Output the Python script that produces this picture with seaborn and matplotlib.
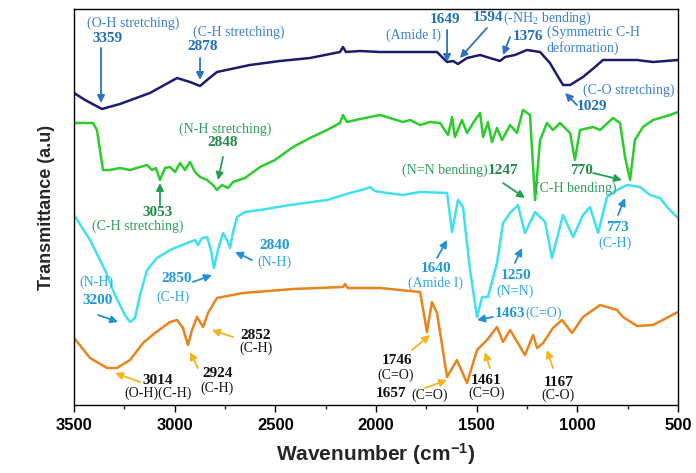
import matplotlib
matplotlib.use("Agg")
import matplotlib.pyplot as plt
import seaborn as sns
import pandas as pd

# ---- spectra (wavenumber in cm^-1, transmittance in arbitrary offset units) ----
wn_navy = [3500, 3445, 3361, 3272, 3123, 2988, 2924, 2874, 2839, 2790, 2626, 2477, 2328,
           2179, 2164, 2149, 2079, 1980, 1831, 1697, 1647, 1617, 1593, 1548, 1483, 1434,
           1384, 1359, 1310, 1250, 1185, 1136, 1101, 1071, 1036, 972, 912, 873, 704, 624, 500]
t_navy = [312, 305, 296, 301, 312, 327, 323, 319, 325, 333, 340, 344, 347,
          353, 358, 353, 354, 353, 353, 353, 343, 344, 341, 347, 350, 347,
          344, 348, 350, 355, 353, 342, 330, 320, 320, 328, 338, 345, 345, 343, 345]

wn_green = [3500, 3406, 3386, 3356, 3321, 3272, 3222, 3172, 3137, 3113, 3093, 3073, 3048,
            3023, 2998, 2973, 2949, 2924, 2899, 2874, 2839, 2810, 2790, 2765, 2735, 2710,
            2651, 2576, 2502, 2412, 2328, 2243, 2179, 2164, 2144, 2079, 1980, 1931, 1866,
            1831, 1781, 1731, 1682, 1642, 1622, 1608, 1573, 1548, 1518, 1483, 1468, 1444,
            1424, 1399, 1374, 1334, 1300, 1270, 1235, 1210, 1185, 1151, 1121, 1086, 1036,
            1012, 987, 922, 887, 823, 788, 763, 738, 714, 674, 624, 540, 500]
t_green = [282, 282, 275, 235, 235, 237, 235, 238, 240, 235, 237, 225, 237,
           238, 233, 242, 235, 243, 233, 228, 225, 220, 215, 220, 217, 223,
           227, 238, 245, 258, 267, 275, 282, 290, 283, 286, 290, 287, 283,
           285, 280, 283, 282, 270, 288, 268, 285, 272, 282, 292, 268, 283,
           263, 277, 265, 280, 272, 295, 290, 205, 265, 282, 275, 282, 272,
           245, 275, 278, 275, 287, 282, 248, 225, 265, 278, 285, 290, 293]

wn_cyan = [3500, 3420, 3346, 3296, 3247, 3222, 3197, 3172, 3137, 3088, 3023, 2949, 2899,
           2884, 2864, 2839, 2820, 2805, 2785, 2760, 2740, 2725, 2710, 2690, 2651, 2576,
           2427, 2243, 2129, 2055, 2030, 2005, 1980, 1866, 1781, 1647, 1622, 1593, 1568,
           1533, 1498, 1473, 1444, 1399, 1369, 1334, 1295, 1260, 1210, 1160, 1126, 1071,
           1021, 972, 937, 897, 853, 803, 753, 689, 639, 589, 550, 500]
t_cyan = [190, 165, 135, 110, 90, 83, 87, 110, 135, 147, 155, 161, 165,
          160, 167, 168, 155, 137, 155, 172, 165, 157, 173, 188, 193, 195,
          200, 205, 212, 216, 218, 214, 213, 210, 213, 212, 173, 205, 198,
          135, 88, 108, 108, 142, 182, 192, 200, 172, 193, 183, 147, 190,
          168, 190, 198, 172, 208, 215, 220, 218, 210, 207, 197, 187]

wn_orange = [3500, 3420, 3336, 3286, 3222, 3157, 3098, 3023, 2988, 2959, 2934, 2914, 2889,
             2859, 2834, 2790, 2661, 2412, 2164, 2154, 2140, 1980, 1781, 1757, 1747, 1737,
             1722, 1697, 1647, 1598, 1548, 1498, 1449, 1399, 1369, 1334, 1260, 1220, 1200,
             1170, 1121, 1076, 1026, 972, 887, 803, 773, 704, 624, 500]
t_orange = [67, 47, 37, 37, 45, 62, 72, 83, 85, 77, 60, 75, 88,
            78, 92, 107, 112, 116, 118, 121, 117, 117, 113, 85, 73, 85,
            103, 92, 28, 45, 22, 55, 65, 78, 63, 75, 50, 70, 57,
            62, 77, 85, 72, 88, 100, 95, 88, 79, 80, 93]

NAVY, GREEN, CYAN, ORANGE = "#1c1c6e", "#2ccc2c", "#40e0f0", "#e8841e"

sns.set_style("white")
plt.rcParams["font.family"] = ["Liberation Serif", "DejaVu Serif"]
plt.rcParams["mathtext.fontset"] = "custom"
plt.rcParams["mathtext.rm"] = "Liberation Serif"
plt.rcParams["mathtext.bf"] = "Liberation Sans:bold"

fig = plt.figure(figsize=(6.96, 4.73), dpi=100)
ax = fig.add_axes([74 / 696, 1 - 405 / 473, 604 / 696, 396 / 473])

for wn, t, c in [(wn_navy, t_navy, NAVY), (wn_green, t_green, GREEN),
                 (wn_cyan, t_cyan, CYAN), (wn_orange, t_orange, ORANGE)]:
    df = pd.DataFrame({"wavenumber": wn, "transmittance": t})
    sns.lineplot(data=df, x="wavenumber", y="transmittance", ax=ax, color=c,
                 lw=1.8, estimator=None, sort=False)

ax.set_xlim(3500, 500)
ax.set_ylim(0, 396)
ax.set_xticks([3500, 3000, 2500, 2000, 1500, 1000, 500])
ax.set_xticks([3250, 2750, 2250, 1750, 1250, 750], minor=True)
ax.set_yticks([])
ax.tick_params(axis="x", which="major", direction="out", length=5, width=1, bottom=True,
               labelsize=12, pad=4, colors="black")
ax.tick_params(axis="x", which="minor", direction="out", length=3, width=1, bottom=True)
for lab in ax.get_xticklabels():
    lab.set_fontfamily("Liberation Sans")
    lab.set_fontweight("bold")
for s in ax.spines.values():
    s.set_color("black")
    s.set_linewidth(1.0)

ax.set_xlabel("Wavenumber (cm$\\mathbf{^{-1}}$)", fontfamily="Liberation Sans",
              fontweight="bold", fontsize=15, labelpad=6)
ax.set_ylabel("Transmittance (a.u)", fontfamily="Liberation Sans",
              fontweight="bold", fontsize=13, labelpad=14)


def num(x, y, s, c, ha="center"):
    ax.text(x, y, s, color=c, fontsize=11, fontweight="bold", ha=ha, va="center")


def lab(x, y, s, c, ha="center"):
    ax.text(x, y, s, color=c, fontsize=10, ha=ha, va="center")


def arrow(tail, tip, c):
    ax.annotate("", xy=tip, xytext=tail,
                arrowprops=dict(arrowstyle="-|>", color=c, lw=1.3, mutation_scale=11,
                                shrinkA=0, shrinkB=0))


# navy spectrum annotations
NT, NN, NA = "#3a80cc", "#1f6fba", "#2b74bf"
lab(3204, 382, "(O-H stretching)", NT)
num(3336, 366, "3359", NN)
arrow((3366, 357), (3366, 302), NA)
lab(2683, 373, "(C-H stretching)", NT)
num(2862, 358, "2878", NN)
arrow((2874, 347), (2874, 325), NA)
num(1657, 385, "1649", NN)
lab(1816, 370, "(Amide I)", NT)
arrow((1647, 375), (1647, 343), NA)
num(1369, 387, "1594", NN, ha="right")
lab(1369, 387, "(-NH$_2$ bending)", NT, ha="left")
arrow((1449, 377), (1583, 347), NA)
num(1247, 369, "1376", NN)
lab(1151, 373, "(Symmetric C-H", NT, ha="left")
lab(1151, 357, "deformation)", NT, ha="left")
arrow((1334, 368), (1369, 350), NA)
lab(746, 315, "(C-O stretching)", NT)
num(925, 298, "1029", NN)
arrow((1002, 300), (1061, 312), NA)

# green spectrum annotations
GT, GN, GA = "#2e9e5e", "#1f8a4c", "#22a050"
lab(2750, 276, "(N-H stretching)", GT)
num(2762, 262, "2848", GN)
arrow((2760, 248), (2785, 225), GA)
num(3083, 192, "3053", GN)
lab(3182, 179, "(C-H stretching)", GT)
arrow((3073, 200), (3073, 222), GA)
lab(1444, 235, "(N=N bending)", GT, ha="right")
num(1444, 235, "1247", GN, ha="left")
arrow((1369, 222), (1260, 207), GA)
num(977, 235, "770", GN)
lab(1007, 217, "(C-H bending)", GT)
arrow((922, 232), (778, 225), GA)

# cyan spectrum annotations
CT, CN, CA = "#2ca8e2", "#1d9ad8", "#2090d8"
lab(3388, 123, "(N-H)", CT)
num(3381, 105, "3200", CN)
arrow((3381, 90), (3281, 83), CA)
num(2988, 127, "2850", CN)
lab(3006, 108, "(C-H)", CT)
arrow((2909, 123), (2815, 130), CA)
num(2502, 160, "2840", CN)
lab(2502, 143, "(N-H)", CT)
arrow((2616, 145), (2700, 153), CA)
num(1702, 137, "1640", CN)
lab(1704, 122, "(Amide I)", CT)
arrow((1697, 147), (1647, 165), CA)
num(1302, 130, "1250", CN)
lab(1310, 114, "(N=N)", CT)
arrow((1310, 142), (1275, 157), CA)
num(1260, 92, "1463", CN, ha="right")
lab(1260, 92, "(C=O)", CT, ha="left")
arrow((1419, 88), (1498, 85), CA)
num(800, 178, "773", CN)
lab(813, 162, "(C-H)", CT)
arrow((798, 190), (763, 207), CA)

# orange spectrum annotations
OT, OA = "#111111", "#f4b41a"
num(3083, 25, "3014", OT)
lab(3083, 12, "(O-H)(C-H)", OT)
arrow((3172, 23), (3296, 32), OA)
num(2787, 32, "2924", OT)
lab(2792, 17, "(C-H)", OT)
arrow((2884, 37), (2924, 53), OA)
num(2596, 70, "2852", OT)
lab(2596, 57, "(C-H)", OT)
arrow((2710, 68), (2815, 75), OA)
num(1893, 45, "1746", OT)
lab(1901, 30, "(C=O)", OT)
arrow((1821, 55), (1732, 70), OA)
num(1923, 12, "1657", OT)
lab(1732, 10, "(C=O)", OT)
arrow((1757, 17), (1647, 25), OA)
num(1454, 25, "1461", OT)
lab(1451, 12, "(C=O)", OT)
arrow((1434, 37), (1459, 53), OA)
num(1094, 23, "1167", OT)
lab(1094, 10, "(C-O)", OT)
arrow((1121, 37), (1151, 55), OA)

fig.savefig("out.png", dpi=100)
